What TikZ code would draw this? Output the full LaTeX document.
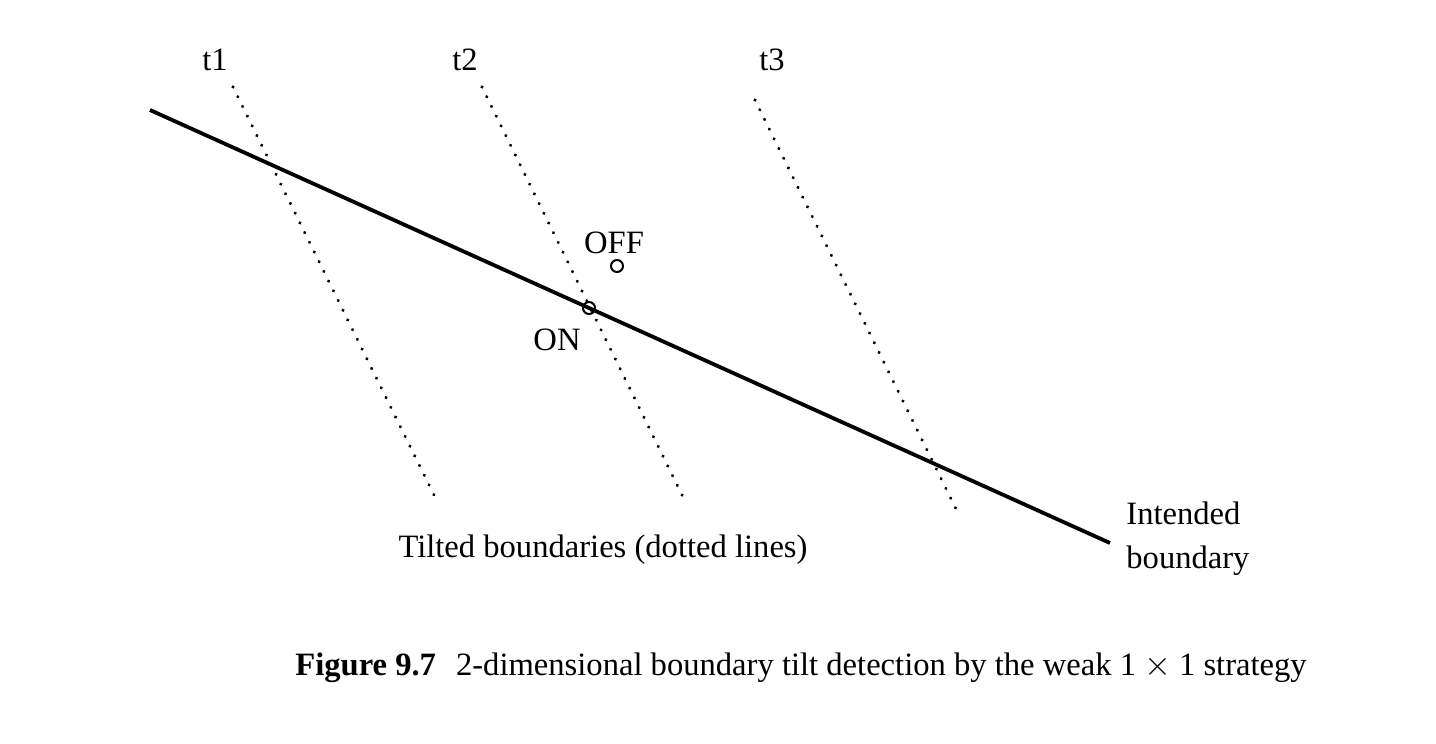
\documentclass[tikz,border=0pt]{standalone}
\usepackage{fontspec}
\setmainfont{Liberation Serif}
\begin{document}
\begin{tikzpicture}[x=0.5pt,y=-0.5pt,
  lbl/.style={font=\fontsize{16.3}{19}\selectfont, inner sep=0pt},
  tilt/.style={line width=1.7pt, dash pattern=on 0.01pt off 5.4pt, line cap=round},
  intended/.style={line width=1.9pt},
  pt/.style={circle, draw, line width=1pt, minimum size=6pt, inner sep=0pt}]
\useasboundingbox (0,0) rectangle (1436,744);
% intended boundary
\coordinate (ia) at (150,110);
\coordinate (ib) at (1110,543);
\draw[intended] (ia) -- (ib);
% tilted boundaries
\coordinate (a1) at (233,87);  \coordinate (b1) at (435,497);
\coordinate (a2) at (482,87);  \coordinate (b2) at (683,497);
\coordinate (a3) at (755,100); \coordinate (b3) at (957,511);
\draw[tilt] (a1) -- (b1);
\draw[tilt] (a2) -- (b2);
\draw[tilt] (a3) -- (b3);
\node[lbl] (t1) at (215,60) {t1};
\node[lbl] (t2) at (465,60) {t2};
\node[lbl] (t3) at (772,60) {t3};
% points
\node[pt] (on) at (589,308) {};
\node[pt] (off) at (617,266) {};
\node[lbl] (offl) at (614,243) {OFF};
\node[lbl] (onl) at (557,340) {ON};
\node[lbl] (tilted) at (603,550) {Tilted boundaries (dotted lines)};
\node[lbl, align=left, anchor=west] (intl) at (1126,539) {Intended\\[3pt]boundary};
\node[font=\fontsize{16.3}{19}\selectfont, inner sep=0pt, anchor=base west] (cap) at (295,675)
  {\textbf{Figure 9.7}\hspace{10pt}2-dimensional boundary tilt detection by the weak 1 $\times$ 1 strategy};
\end{tikzpicture}
\end{document}
